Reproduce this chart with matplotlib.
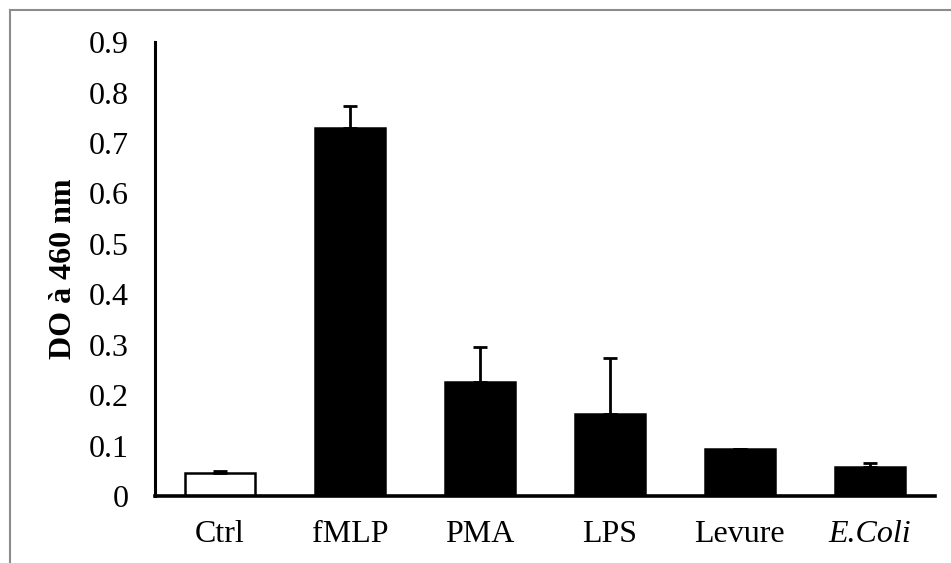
import numpy as np
import matplotlib
matplotlib.use('Agg')
import matplotlib.pyplot as plt
from matplotlib.lines import Line2D

plt.rcParams['font.family'] = ['Liberation Serif', 'DejaVu Serif']

# Data
categories = ['Ctrl', 'fMLP', 'PMA', 'LPS', 'Levure', 'E.Coli']
values = [0.046, 0.73, 0.226, 0.163, 0.093, 0.058]
errors = [0.003, 0.043, 0.070, 0.111, 0.001, 0.008]
face_colors = ['white', 'black', 'black', 'black', 'black', 'black']
yticks = [0, 0.1, 0.2, 0.3, 0.4, 0.5, 0.6, 0.7, 0.8, 0.9]
ytick_labels = ['0', '0.1', '0.2', '0.3', '0.4', '0.5', '0.6', '0.7', '0.8', '0.9']

fig = plt.figure(figsize=(9.51, 5.63), dpi=100)
ax = fig.add_axes([0.163, 0.119, 0.820, 0.806])

x = np.arange(len(categories))
ax.bar(x, values, width=0.54, color=face_colors, edgecolor='black', linewidth=1.8, zorder=2)

# upper error bars only
ax.errorbar(x, values, yerr=[np.zeros(len(errors)), errors], fmt='none',
            ecolor='black', elinewidth=2, capsize=5, capthick=2, zorder=3)

ax.set_xlim(-0.5, len(categories) - 0.5)
ax.set_ylim(0, 0.9)
ax.set_yticks(yticks)
ax.set_yticklabels(ytick_labels)
ax.set_xticks(x)
ax.set_xticklabels(categories)
ax.get_xticklabels()[-1].set_style('italic')
ax.tick_params(axis='both', length=0, labelsize=23)
ax.tick_params(axis='y', pad=19)
ax.tick_params(axis='x', pad=17)

for side in ['top', 'right']:
    ax.spines[side].set_visible(False)
ax.spines['left'].set_linewidth(2.2)
ax.spines['bottom'].set_linewidth(2.6)

ax.set_ylabel('DO à 460 nm', fontsize=23, fontweight='bold', labelpad=8)

# gray frame around the figure (top and left visible)
fig.add_artist(Line2D([10 / 951, 1.0], [1 - 10 / 563, 1 - 10 / 563], color='#8c8c8c', linewidth=1.5,
                      transform=fig.transFigure))
fig.add_artist(Line2D([10 / 951, 10 / 951], [0.0, 1 - 10 / 563], color='#8c8c8c', linewidth=1.5,
                      transform=fig.transFigure))

fig.savefig('out.png', dpi=100)
